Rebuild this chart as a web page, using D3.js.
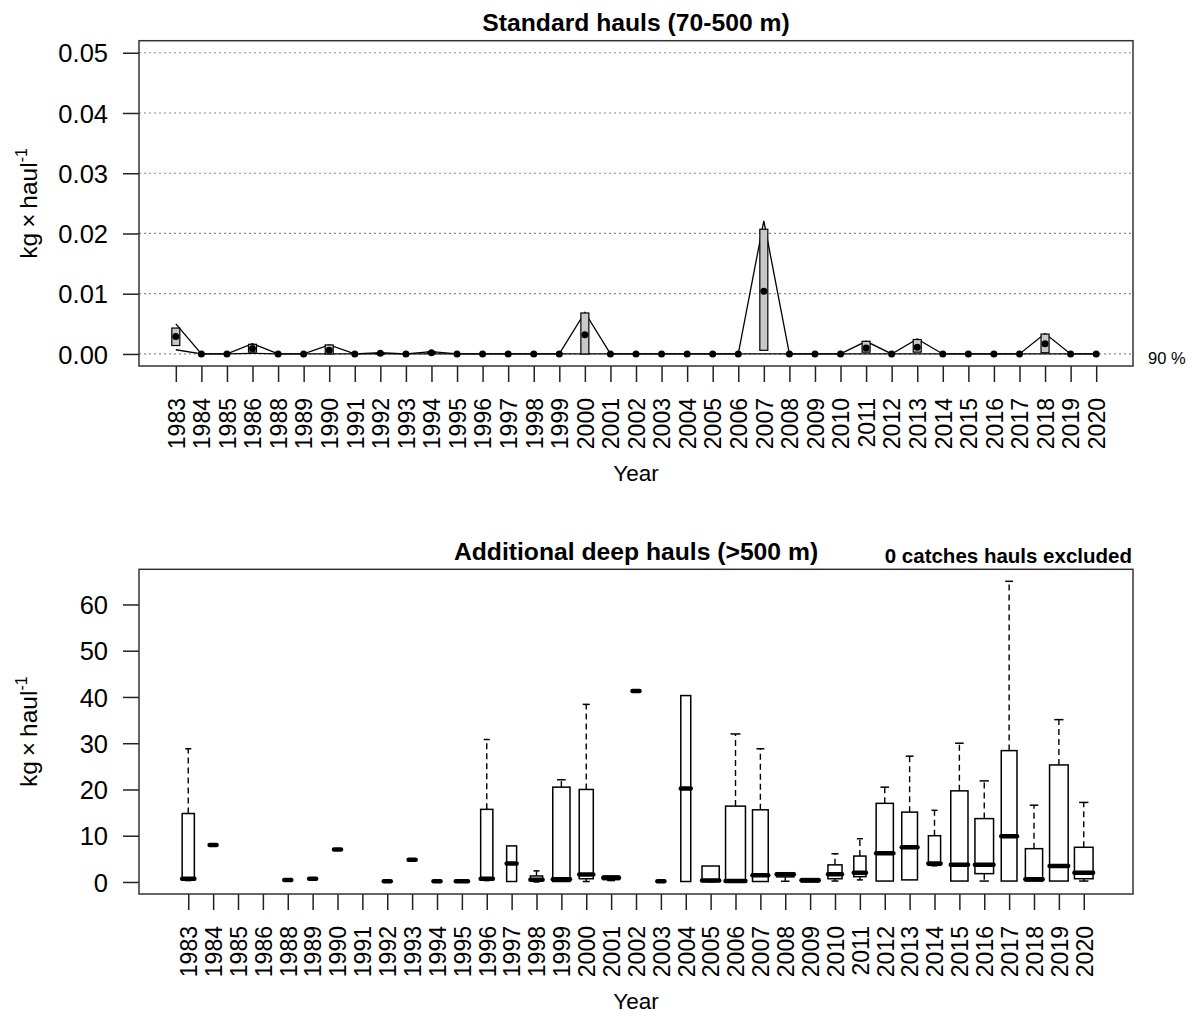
<!DOCTYPE html>
<html>
<head>
<meta charset="utf-8">
<script src="https://cdn.jsdelivr.net/npm/d3@7"></script>
<style>
  html, body { margin: 0; padding: 0; background: #fff; }
  svg text { font-family: "Liberation Sans", Arial, Helvetica, sans-serif; fill: #000; }
</style>
</head>
<body>
<svg id="chart" width="1196" height="1016"></svg>
<script>
// Survey years (1987 not sampled)
const years = [1983,1984,1985,1986,1988,1989,1990,1991,1992,1993,1994,1995,1996,1997,1998,
  1999,2000,2001,2002,2003,2004,2005,2006,2007,2008,2009,2010,2011,2012,2013,2014,2015,
  2016,2017,2018,2019,2020];

// Standard hauls (70-500 m): mean catch, inner box range and 90 % band
const stdMean   = [0.0029,0,0,0.0009,0,0,0.0006,0,0.0001,0,0.0002,0,0,0,0,0,0.0032,0,0,0,0,0,0,0.0104,0,0,0,0.0010,0,0.0011,0,0,0,0,0.0017,0,0];
const stdBoxLo  = [0.0014,0,0,0.0003,0,0,0,0,0,0,0.0001,0,0,0,0,0,0,0,0,0,0,0,0,0.0006,0,0,0,0.0003,0,0.0003,0,0,0,0,0.0002,0,0];
const stdBoxHi  = [0.0043,0,0,0.0016,0,0,0.0015,0,0.0001,0,0.0003,0,0,0,0,0,0.0068,0,0,0,0,0,0,0.0207,0,0,0,0.0021,0,0.0024,0,0,0,0,0.0033,0,0];
const stdBandLo = [0.0007,0,0,0.0001,0,0,0,0,0,0,0,0,0,0,0,0,0,0,0,0,0,0,0,0,0,0,0,0,0,0,0,0,0,0,0,0,0];
const stdBandHi = [0.0050,0,0,0.0017,0,0,0.0015,0,0.0002,0,0.0004,0,0,0,0,0,0.0069,0,0,0,0,0,0,0.0221,0,0,0,0.0021,0,0.0025,0,0,0,0,0.0034,0,0];
const stdTicks  = [0, 0.01, 0.02, 0.03, 0.04, 0.05];

// Additional deep hauls (>500 m), zero catches excluded: box-plot statistics
const deepN     = [3,1,0,0,1,1,1,0,1,1,1,3,3,2,3,6,4,5,1,1,2,6,8,5,6,6,4,3,6,5,3,6,7,5,6,7,7];
const deepLo    = [0.3,8.0,null,null,0.4,0.7,7.0,null,0.15,4.8,0.15,0.1,0.3,0.1,0.0,0.1,0.1,0.3,41.3,0.15,0.1,0.05,0.05,0.1,0.15,0.0,0.2,0.45,0.2,0.45,3.5,0.2,0.2,0.2,0.2,0.2,0.2];
const deepQ1    = [0.37,8.0,null,null,0.4,0.7,7.0,null,0.15,4.8,0.15,0.15,0.37,0.1,0.37,0.1,0.7,0.5,41.3,0.15,0.1,0.1,0.05,0.1,1.1,0.0,0.7,1.15,0.2,0.45,3.6,0.2,1.8,0.2,0.2,0.2,0.7];
const deepMed   = [0.7,8.0,null,null,0.4,0.7,7.0,null,0.15,4.8,0.15,0.15,0.7,4.0,0.5,0.6,1.6,0.9,41.3,0.15,20.2,0.3,0.2,1.45,1.65,0.37,1.65,2.0,6.2,7.5,4.0,3.7,3.7,9.9,0.6,3.45,2.0];
const deepQ3    = [14.8,8.0,null,null,0.4,0.7,7.0,null,0.15,4.8,0.15,0.2,15.7,7.8,1.3,20.5,20.0,1.3,41.3,0.15,40.3,3.45,16.4,15.6,2.0,0.73,3.7,5.6,17.0,15.1,10.0,19.7,13.7,28.4,7.2,25.3,7.5];
const deepHi    = [28.8,8.0,null,null,0.4,0.7,7.0,null,0.15,4.8,0.15,0.2,30.8,7.8,2.4,22.1,38.4,1.3,41.3,0.15,40.3,3.45,32.0,28.8,2.0,0.73,6.1,9.35,20.5,27.2,15.5,30.0,21.85,65.0,16.6,35.1,17.2];
const deepTicks = [0, 10, 20, 30, 40, 50, 60];

const svg = d3.select("#chart");
const L = 139, R = 1133;
const idx = years.map((d, i) => i + 1);
const FONT = "Liberation Sans, Arial, sans-serif";

// Frame, axis ticks and rotated year labels shared by both panels
function drawFrame(g, x, y, top, bottom, ticks, fmt) {
  g.append("g")
    .attr("transform", `translate(${L},0)`)
    .call(d3.axisLeft(y).tickValues(ticks).tickFormat(fmt).tickSize(16).tickPadding(15))
    .call(a => a.select(".domain").remove())
    .call(a => a.selectAll("line").attr("stroke", "#222").attr("stroke-width", 1.5))
    .call(a => a.selectAll("text").attr("font-size", 25.5).attr("fill", "#000")
      .attr("font-family", FONT).attr("dy", "0.36em"));

  g.append("g")
    .attr("transform", `translate(0,${bottom})`)
    .call(d3.axisBottom(x).tickValues(idx).tickFormat((d, i) => years[i]).tickSize(16))
    .call(a => a.select(".domain").remove())
    .call(a => a.selectAll("line").attr("stroke", "#222").attr("stroke-width", 1.5))
    .call(a => a.selectAll("text")
      .attr("font-size", 23).attr("fill", "#000")
      .attr("font-family", FONT)
      .attr("transform", "rotate(-90)")
      .attr("text-anchor", "end")
      .attr("x", -32).attr("y", 0).attr("dy", "0.36em"));

  g.append("rect")
    .attr("x", L).attr("y", top).attr("width", R - L).attr("height", bottom - top)
    .attr("fill", "none").attr("stroke", "#333").attr("stroke-width", 1.5);

  g.append("text")
    .attr("x", (L + R) / 2).attr("y", bottom + 115)
    .attr("text-anchor", "middle").attr("font-size", 22.5).text("Year");

  const yl = g.append("text")
    .attr("transform", `translate(37,${(top + bottom) / 2}) rotate(-90)`)
    .attr("text-anchor", "middle").attr("font-size", 24.5);
  yl.append("tspan").text("kg\u2009\u00d7\u2009haul");
  yl.append("tspan").attr("font-size", 16).attr("dy", -10).text("-1");
}

// ---------- Panel 1: standard hauls ----------
{
  const top = 40.7, bottom = 366;
  const g = svg.append("g");
  const x = d3.scaleLinear().domain([1 - 0.04 * 36, 37 + 0.04 * 36]).range([L, R]);
  const y = d3.scaleLinear().domain([-0.002, 0.052]).range([bottom, top]);

  g.append("g").selectAll("line").data(stdTicks).join("line")
    .attr("x1", L).attr("x2", R).attr("y1", d => y(d)).attr("y2", d => y(d))
    .attr("stroke", "#8a8a8a").attr("stroke-width", 1.2).attr("stroke-dasharray", "2,3");

  const line = arr => d3.line().x((d, i) => x(i + 1)).y(d => y(d))(arr);
  g.append("path").attr("d", line(stdBandHi)).attr("fill", "none").attr("stroke", "#000").attr("stroke-width", 1.3);
  g.append("path").attr("d", line(stdBandLo)).attr("fill", "none").attr("stroke", "#000").attr("stroke-width", 1.3);

  g.append("g").selectAll("rect").data(idx.filter((d, i) => stdBoxHi[i] > stdBoxLo[i])).join("rect")
    .attr("x", d => x(d) - 4).attr("width", 8)
    .attr("y", d => y(stdBoxHi[d - 1]))
    .attr("height", d => y(stdBoxLo[d - 1]) - y(stdBoxHi[d - 1]))
    .attr("fill", "#c8c8c8").attr("stroke", "#000").attr("stroke-width", 1.2);

  g.append("g").selectAll("circle").data(stdMean).join("circle")
    .attr("cx", (d, i) => x(i + 1)).attr("cy", d => y(d)).attr("r", 3.5).attr("fill", "#000");

  drawFrame(g, x, y, top, bottom, stdTicks, d3.format(".2f"));

  g.append("text").attr("x", (L + R) / 2).attr("y", 31).attr("text-anchor", "middle")
    .attr("font-size", 24.7).attr("font-weight", "bold").text("Standard hauls (70-500 m)");
  g.append("text").attr("x", 1148).attr("y", 364).attr("font-size", 16.5).text("90 %");
}

// ---------- Panel 2: deep hauls ----------
{
  const top = 569.3, bottom = 894;
  const g = svg.append("g");
  const x = d3.scaleLinear().domain([0.5 - 0.04 * 37, 37.5 + 0.04 * 37]).range([L, R]);
  const maxV = d3.max(deepHi), minV = 0;
  const ext = (maxV - minV) * 0.04;
  const y = d3.scaleLinear().domain([minV - ext, maxV + ext]).range([bottom, top]);

  const unit = x(2) - x(1);
  const nMax = d3.max(deepN);
  const stats = idx.map((p, i) => ({
    p, n: deepN[i], lo: deepLo[i], q1: deepQ1[i], med: deepMed[i], q3: deepQ3[i], hi: deepHi[i]
  })).filter(d => d.n > 0 && d.med != null);
  stats.forEach(d => { d.w = 0.8 * unit * Math.sqrt(d.n / nMax); });

  const bx = g.append("g");
  // whiskers
  bx.selectAll("line.wh").data(stats.filter(d => d.hi > d.q3)).join("line").attr("class", "wh")
    .attr("x1", d => x(d.p)).attr("x2", d => x(d.p)).attr("y1", d => y(d.q3)).attr("y2", d => y(d.hi))
    .attr("stroke", "#000").attr("stroke-width", 1.4).attr("stroke-dasharray", "6,4");
  bx.selectAll("line.wl").data(stats.filter(d => d.lo < d.q1)).join("line").attr("class", "wl")
    .attr("x1", d => x(d.p)).attr("x2", d => x(d.p)).attr("y1", d => y(d.q1)).attr("y2", d => y(d.lo))
    .attr("stroke", "#000").attr("stroke-width", 1.4).attr("stroke-dasharray", "6,4");
  // staples
  bx.selectAll("line.sh").data(stats.filter(d => d.hi > d.q3)).join("line").attr("class", "sh")
    .attr("x1", d => x(d.p) - d.w / 4).attr("x2", d => x(d.p) + d.w / 4)
    .attr("y1", d => y(d.hi)).attr("y2", d => y(d.hi))
    .attr("stroke", "#000").attr("stroke-width", 1.5);
  bx.selectAll("line.sl").data(stats.filter(d => d.lo < d.q1)).join("line").attr("class", "sl")
    .attr("x1", d => x(d.p) - d.w / 4).attr("x2", d => x(d.p) + d.w / 4)
    .attr("y1", d => y(d.lo)).attr("y2", d => y(d.lo))
    .attr("stroke", "#000").attr("stroke-width", 1.5);
  // boxes
  bx.selectAll("rect").data(stats).join("rect")
    .attr("x", d => x(d.p) - d.w / 2).attr("width", d => d.w)
    .attr("y", d => y(d.q3)).attr("height", d => y(d.q1) - y(d.q3))
    .attr("fill", "#fff").attr("stroke", "#000").attr("stroke-width", 1.5);
  // medians
  bx.selectAll("line.md").data(stats).join("line").attr("class", "md")
    .attr("x1", d => x(d.p) - d.w / 2).attr("x2", d => x(d.p) + d.w / 2)
    .attr("y1", d => y(d.med)).attr("y2", d => y(d.med))
    .attr("stroke", "#000").attr("stroke-width", 4.5).attr("stroke-linecap", "round");

  drawFrame(g, x, y, top, bottom, deepTicks, d3.format("d"));

  g.append("text").attr("x", (L + R) / 2).attr("y", 560).attr("text-anchor", "middle")
    .attr("font-size", 24.7).attr("font-weight", "bold").text("Additional deep hauls (>500 m)");
  g.append("text").attr("x", 1132).attr("y", 563).attr("text-anchor", "end")
    .attr("font-size", 20.5).attr("font-weight", "bold").text("0 catches hauls excluded");
}
</script>
</body>
</html>
